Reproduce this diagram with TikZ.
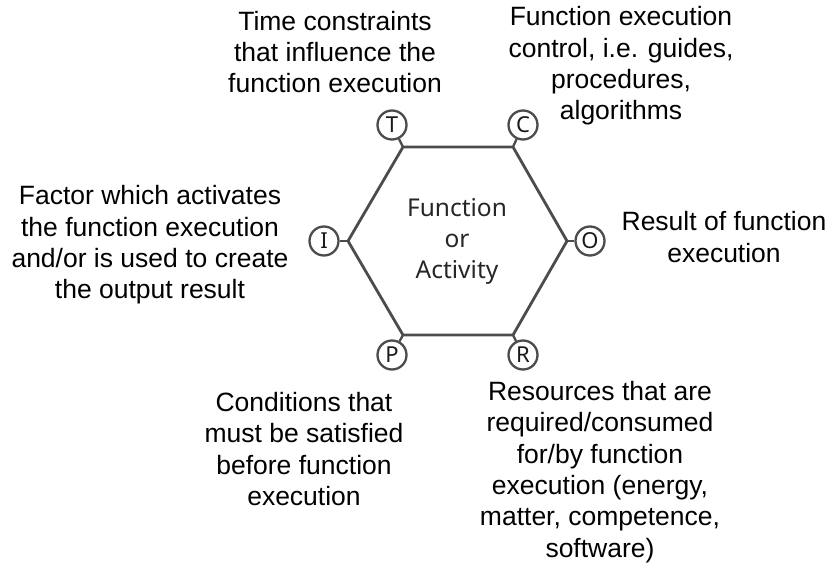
\documentclass[tikz,border=0pt]{standalone}
\usepackage{fontspec}
\setmainfont{Liberation Sans}
\newfontfamily\hexfont{Noto Sans}
\usetikzlibrary{backgrounds, positioning}

\begin{document}
\begin{tikzpicture}[x=1pt, y=-1pt,
	label text/.style={align=center, inner sep=0pt, font=\fontsize{26.5}{31.3}\selectfont},
	icom/.style={circle, draw=black!70, line width=2.3pt, fill=white, minimum size=29pt, inner sep=0pt, font=\hexfont\fontsize{22}{22}\selectfont, text=black!90}
]
	\useasboundingbox (0,0) rectangle (828,564);

	\coordinate (vt) at (403,147);
	\coordinate (vc) at (513,147);
	\coordinate (vo) at (567,241);
	\coordinate (vr) at (513,335);
	\coordinate (vp) at (403,335);
	\coordinate (vi) at (348,241);

	\draw[black!70, line width=2.8pt, line join=round] (vt) -- (vc) -- (vo) -- (vr) -- (vp) -- (vi) -- cycle;

	\node[align=center, text=black!85, font=\hexfont\fontsize{24.5}{31}\selectfont] (fn) at (457,241) {Function\\or\\Activity};

	\node[icom] (t) at (392,125) {T};
	\node[icom] (c) at (523,125) {C};
	\node[icom] (i) at (324,241) {I};
	\node[icom] (o) at (590,241) {O};
	\node[icom] (p) at (392,355) {P};
	\node[icom] (r) at (523,355) {R};

	\draw[black!70, line width=2.3pt] (vt) -- (t);
	\draw[black!70, line width=2.3pt] (vc) -- (c);
	\draw[black!70, line width=2.3pt] (vi) -- (i);
	\draw[black!70, line width=2.3pt] (vo) -- (o);
	\draw[black!70, line width=2.3pt] (vp) -- (p);
	\draw[black!70, line width=2.3pt] (vr) -- (r);

	\node[label text] (tl) at (335,52) {Time constraints\\that influence the\\function execution};
	\node[label text] (cl) at (621,66) {Function execution\\control, i.e. guides,\\procedures,\\algorithms};
	\node[label text] (il) at (150,245) {Factor which activates\\the function execution\\and/or is used to create\\the output result};
	\node[label text] (ol) at (724,237) {Result of function\\execution};
	\node[label text] (pl) at (304,449) {Conditions that\\must be satisfied\\before function\\execution};
	\node[label text] (rl) at (600,472) {Resources that are\\required/consumed\\for/by function\\execution (energy,\\matter, competence,\\software)};
\end{tikzpicture}
\end{document}
